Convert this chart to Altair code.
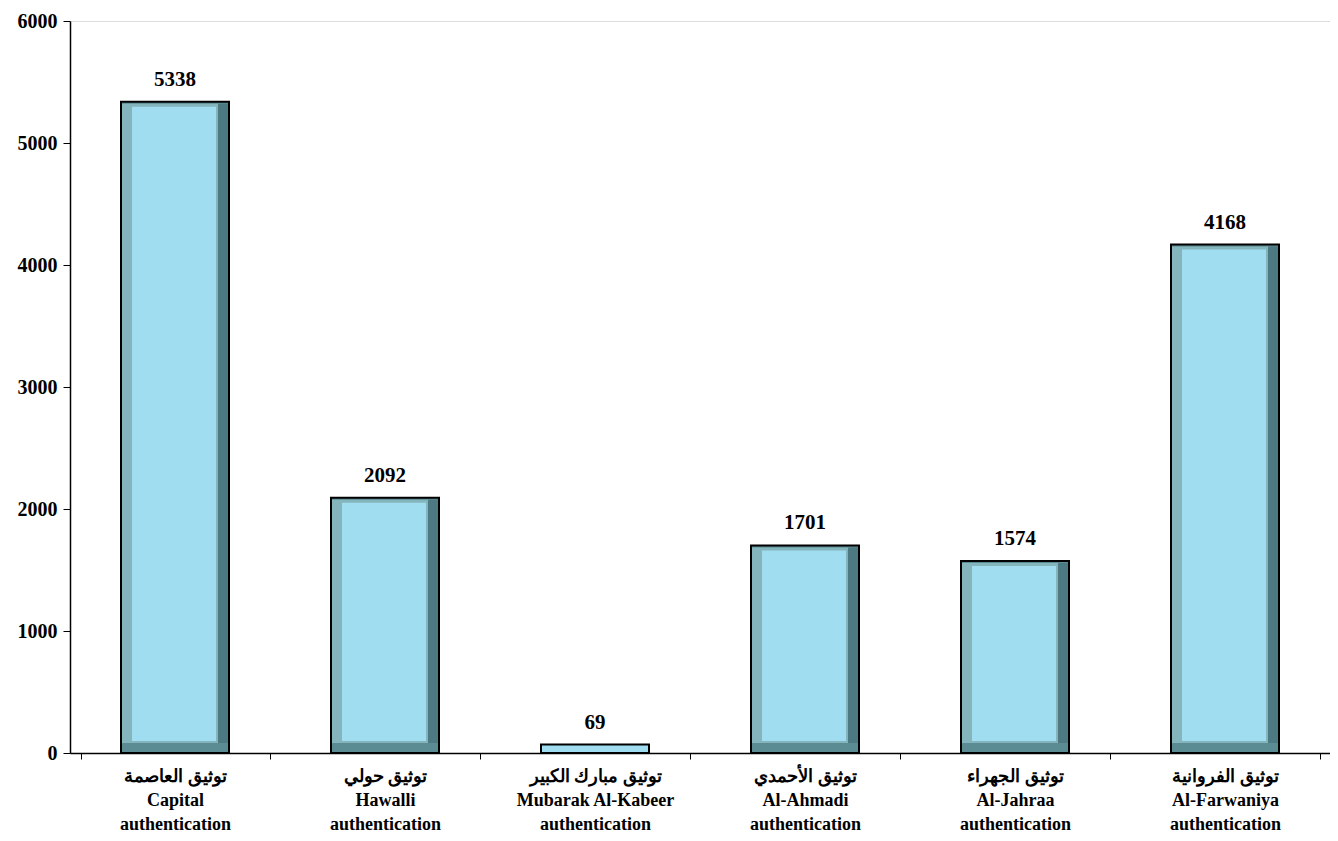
import altair as alt
import pandas as pd

arabic_names = ["توثيق العاصمة", "توثيق حولي", "توثيق مبارك الكبير", "توثيق الأحمدي", "توثيق الجهراء", "توثيق الفروانية"]
english_names = ["Capital", "Hawalli", "Mubarak Al-Kabeer", "Al-Ahmadi", "Al-Jahraa", "Al-Farwaniya"]
values = [5338, 2092, 69, 1701, 1574, 4168]

labels = [f"{a}|{e}|authentication" for a, e in zip(arabic_names, english_names)]
df = pd.DataFrame({"label": labels, "value": values})

FONT = "Liberation Serif"

x = alt.X("label:N", sort=labels, title=None,
          axis=alt.Axis(labelExpr="split(datum.label, '|')", labelAngle=0,
                        labelFont=FONT, labelFontWeight="bold", labelFontSize=18,
                        labelColor="black", labelLineHeight=24, labelPadding=8,
                        tickBand="extent", tickColor="black", tickSize=6,
                        domainColor="black", domainWidth=1.5, labelLimit=300))
y = alt.Y("value:Q", title=None, scale=alt.Scale(domain=[0, 6000], nice=False),
          axis=alt.Axis(values=[0, 1000, 2000, 3000, 4000, 5000, 6000], grid=False,
                        format="d",
                        labelFont=FONT, labelFontWeight="bold", labelFontSize=20,
                        labelColor="black", tickColor="black", tickSize=7, labelPadding=6,
                        domainColor="black", domainWidth=1.5))

base = alt.Chart(df)

outer = base.mark_bar(size=108, stroke="black", strokeWidth=2).encode(
    x=x, y=y, y2=alt.datum(0),
    color=alt.condition("datum.value < 500", alt.value("#a0ddf1"), alt.value("#5b8b93")))

big = base.transform_filter("datum.value >= 500")
left = big.mark_bar(size=98, xOffset=-4, y2Offset=-10, yOffset=2, color="#84b4bc").encode(
    x=x, y="value:Q", y2=alt.datum(0))
right = big.mark_bar(size=10, xOffset=48, y2Offset=-10, yOffset=2, color="#4d7a82").encode(
    x=x, y="value:Q", y2=alt.datum(0))
face = big.mark_bar(size=84, xOffset=-1, yOffset=5, y2Offset=-12, color="#a0ddf1").encode(
    x=x, y="value:Q", y2=alt.datum(0))

text = base.mark_text(dy=-12, baseline="bottom", font=FONT, fontWeight="bold",
                      fontSize=21, color="black").encode(x=x, y="value:Q", text="value:Q")

chart = alt.layer(outer, left, right, face, text).properties(
    width=1260, height=732,
    autosize=alt.AutoSizeParams(type="none"),
    padding={"left": 62, "top": 13, "right": 0, "bottom": 86},
).configure_view(stroke=None).configure(background="white")

chart.save("out.html", embed_options={"renderer": "svg", "actions": False})
